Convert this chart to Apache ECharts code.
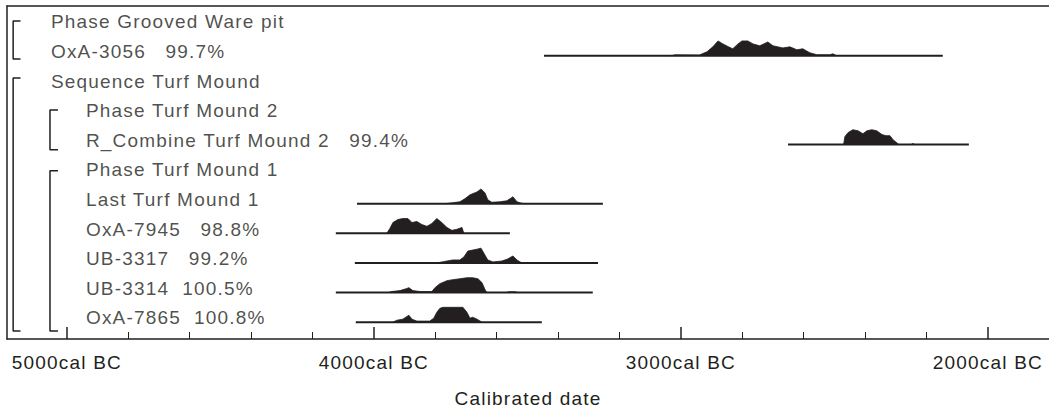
<!DOCTYPE html>
<html>
<head>
<meta charset="utf-8">
<script src="https://cdn.jsdelivr.net/npm/echarts@6.0.0/dist/echarts.min.js"></script>
<style>
  html, body { margin: 0; padding: 0; background: #fff; }
  #main { width: 1049px; height: 413px; }
  #main text { white-space: pre; letter-spacing: 1.2px; }
</style>
</head>
<body>
<div id="main"></div>
<script>
// rows of the OxCal plot, top to bottom
var labels = ['Phase Grooved Ware pit', 'OxA-3056', 'Sequence Turf Mound', 'Phase Turf Mound 2',
  'R_Combine Turf Mound 2', 'Phase Turf Mound 1', 'Last Turf Mound 1', 'OxA-7945', 'UB-3317',
  'UB-3314', 'OxA-7865'];
var agreement = [null, 99.7, null, null, 99.4, null, null, 98.8, 99.2, 100.5, 100.8];
var indent = [0, 0, 0, 1, 1, 1, 1, 1, 1, 1, 1];
// plotted range of each row (years cal BC)
var rangeFrom = [null, 3446, null, null, 2651, null, 4055, 4124, 4062, 4124, 4059];
var rangeTo = [null, 2147, null, null, 2062, null, 3254, 3557, 3270, 3287, 3453];

// posterior distributions: [year BC, relative probability]
var dOxA3056 = [[3030, 0], [3020, 0.06], [2940, 0.05], [2915, 0.27], [2896, 0.6], [2879, 1.0], [2863, 0.8],
  [2840, 0.55], [2831, 0.47], [2814, 0.8], [2801, 1.0], [2782, 1.0], [2765, 0.8], [2743, 0.67], [2717, 0.93],
  [2700, 0.67], [2668, 0.53], [2645, 0.6], [2622, 0.4], [2603, 0.47], [2580, 0.2], [2557, 0.07], [2515, 0.07],
  [2505, 0.13], [2492, 0]];
var dRCombine = [[2470, 0], [2466, 0.53], [2456, 0.8], [2440, 1.0], [2423, 0.93], [2407, 0.73], [2394, 0.93],
  [2378, 1.0], [2362, 0.93], [2345, 0.67], [2332, 0.6], [2319, 0.6], [2309, 0.33], [2290, 0], [2250, 0],
  [2244, 0.07], [2238, 0]];
var dLastTM1 = [[3769, 0], [3743, 0.07], [3720, 0.13], [3704, 0.33], [3687, 0.6], [3664, 0.8], [3651, 1.0],
  [3638, 0.73], [3629, 0.27], [3616, 0.1], [3590, 0.13], [3567, 0.2], [3557, 0.33], [3547, 0.47], [3534, 0.13],
  [3518, 0.03], [3502, 0]];
var dOxA7945 = [[3958, 0], [3948, 0.33], [3938, 0.73], [3922, 0.93], [3906, 1.0], [3889, 1.0], [3876, 0.73],
  [3860, 0.8], [3844, 0.6], [3827, 0.47], [3811, 0.67], [3795, 1.0], [3779, 0.73], [3762, 0.4], [3746, 0.2],
  [3730, 0.27], [3713, 0.4], [3707, 0]];
var dUB3317 = [[3795, 0], [3762, 0.13], [3743, 0.2], [3720, 0.2], [3707, 0.4], [3694, 0.8], [3678, 0.87],
  [3664, 0.93], [3651, 1.0], [3642, 0.67], [3629, 0.2], [3612, 0.07], [3583, 0.13], [3564, 0.27], [3547, 0.47],
  [3534, 0.2], [3518, 0]];
var dUB3314 = [[3954, 0], [3941, 0.07], [3915, 0.13], [3893, 0.27], [3886, 0.33], [3873, 0.13], [3850, 0.07],
  [3811, 0.07], [3801, 0.33], [3785, 0.6], [3762, 0.8], [3743, 0.87], [3720, 0.93], [3697, 1.0], [3678, 1.0],
  [3661, 0.93], [3648, 0.67], [3638, 0.2], [3632, 0], [3570, 0], [3560, 0.05], [3540, 0.05], [3530, 0]];
var dOxA7865 = [[3938, 0], [3925, 0.13], [3906, 0.2], [3886, 0.47], [3876, 0.2], [3860, 0.07], [3818, 0.07],
  [3805, 0.27], [3795, 0.67], [3785, 0.93], [3775, 1.0], [3710, 1.0], [3697, 0.67], [3687, 0.27], [3678, 0.33],
  [3664, 0.2], [3648, 0]];
var densities = [dOxA3056, dRCombine, dLastTM1, dOxA7945, dUB3317, dUB3314, dOxA7865];
var densityRows = [1, 4, 6, 7, 8, 9, 10];

// group brackets: [level, top row, bottom row]
var brackets = [[0, -0.03, 1.25], [0, 1.89, 10.44], [1, 2.97, 4.32], [1, 5.03, 10.44]];

// axis ticks (years BC)
var majorTicks = [5000, 4000, 3000, 2000];
var minorTicks = [4800, 4600, 4400, 4200, 3800, 3600, 3400, 3200, 2800, 2600, 2400, 2200];

var ink = '#231f20';
var font = '"Liberation Sans", Arial, sans-serif';
var baseOffset = 0.14;   // distribution baseline sits a bit below the label centre
var peak = 0.5;          // height of a distribution peak in rows
var textX = [5052, 4938];           // label start per indent level
var barX = [5175, 5055], tipX = [5151, 5029];

var chart = echarts.init(document.getElementById('main'), null, { renderer: 'svg' });

var series = [];

// bracket lines
brackets.forEach(function (b) {
  series.push({
    type: 'line', symbol: 'none', silent: true,
    lineStyle: { color: ink, width: 1.5 },
    data: [[-tipX[b[0]], b[1]], [-barX[b[0]], b[1]], [-barX[b[0]], b[2]], [-tipX[b[0]], b[2]]]
  });
});

// range lines
for (var i = 0; i < labels.length; i++) {
  if (rangeFrom[i] == null) continue;
  series.push({
    type: 'line', symbol: 'none', silent: true,
    lineStyle: { color: ink, width: 2 },
    data: [[-rangeFrom[i], i + baseOffset], [-rangeTo[i], i + baseOffset]]
  });
}

// filled distributions
densities.forEach(function (d, k) {
  var base = densityRows[k] + baseOffset;
  series.push({
    type: 'line', symbol: 'none', silent: true,
    lineStyle: { color: ink, width: 0.8 },
    areaStyle: { color: ink, opacity: 1, origin: base },
    data: d.map(function (p) { return [-p[0], base - p[1] * peak]; })
  });
});

// row labels
function pad(v) {
  var s = v.toFixed(1) + '%';
  while (s.length < 6) s = ' ' + s;
  return s;
}
series.push({
  type: 'scatter', symbolSize: 0, silent: true,
  label: {
    show: true, position: 'right', distance: 0,
    color: ink, fontSize: 19, fontFamily: font,
    formatter: function (p) {
      var i = p.dataIndex;
      return agreement[i] == null ? labels[i] : labels[i] + '  ' + pad(agreement[i]);
    }
  },
  data: labels.map(function (l, i) { return [-textX[indent[i]], i]; })
});

var option = {
  animation: false,
  grid: { left: 7, right: 0, top: 6, bottom: 74 },
  xAxis: [
    {
      type: 'value', position: 'bottom', min: -5195, max: -1801,
      axisLine: { show: true, onZero: false, lineStyle: { color: ink, width: 1.5 } },
      axisTick: { show: true, inside: true, length: 12, customValues: majorTicks.map(function (v) { return -v; }),
        lineStyle: { color: ink, width: 1.5 } },
      axisLabel: { customValues: majorTicks.map(function (v) { return -v; }), margin: 14,
        color: ink, fontSize: 19, fontFamily: font,
        formatter: function (v) { return (-v) + 'cal BC'; } },
      splitLine: { show: false },
      name: 'Calibrated date', nameLocation: 'middle', nameGap: 50,
      nameTextStyle: { color: ink, fontSize: 19, fontFamily: font }
    },
    {
      type: 'value', position: 'bottom', min: -5195, max: -1801,
      axisLine: { show: false, onZero: false },
      axisTick: { show: true, inside: true, length: 7, customValues: minorTicks.map(function (v) { return -v; }),
        lineStyle: { color: ink, width: 1 } },
      axisLabel: { show: false },
      splitLine: { show: false }
    },
    {
      type: 'value', position: 'top', min: -5195, max: -1801,
      axisLine: { show: true, onZero: false, lineStyle: { color: ink, width: 1.5 } },
      axisTick: { show: false }, axisLabel: { show: false }, splitLine: { show: false }
    }
  ],
  yAxis: {
    type: 'value', inverse: true, min: -0.54, max: 10.71,
    axisLine: { show: true, onZero: false, lineStyle: { color: ink, width: 1.5 } },
    axisTick: { show: false }, axisLabel: { show: false }, splitLine: { show: false }
  },
  series: series
};

chart.setOption(option);
</script>
</body>
</html>
